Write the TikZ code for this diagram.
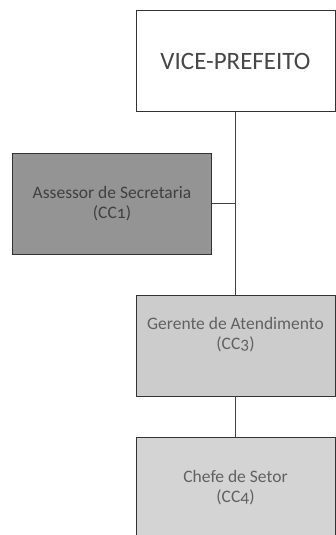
\documentclass[tikz,border=0pt]{standalone}
\usepackage{fontspec}
\setmainfont{Carlito}[Numbers=OldStyle]
\begin{document}
\begin{tikzpicture}[x=1pt,y=-1pt,
  orgbox/.style={draw=black!80, line width=0.9pt, minimum width=199pt, minimum height=101pt, inner sep=0pt, align=center, font=\fontsize{17.5}{20}\selectfont},
  link/.style={draw=black!75, line width=0.8pt}]
\useasboundingbox (0,0) rectangle (335,535);
\node[orgbox, fill=white, text=black!72, font=\fontsize{25}{28}\selectfont] (vp) at (235.5,61) {VICE-PREFEITO};
\node[orgbox, fill=black!42, text=black!75] (as) at (112,203.5) {Assessor de Secretaria\\(CC1)};
\node[orgbox, fill=black!20, text=black!62] (ge) at (235.5,345.5) {Gerente de Atendimento\\(CC3)\\[4pt]\mbox{}};
\node[orgbox, fill=black!17, text=black!62] (ch) at (235.5,487.5) {Chefe de Setor\\(CC4)};
\coordinate (j) at (vp.south |- as.east);
\draw[link] (vp.south) -- (ge.north);
\draw[link] (as.east) -- (j);
\draw[link] (ge.south) -- (ch.north);
\end{tikzpicture}
\end{document}
